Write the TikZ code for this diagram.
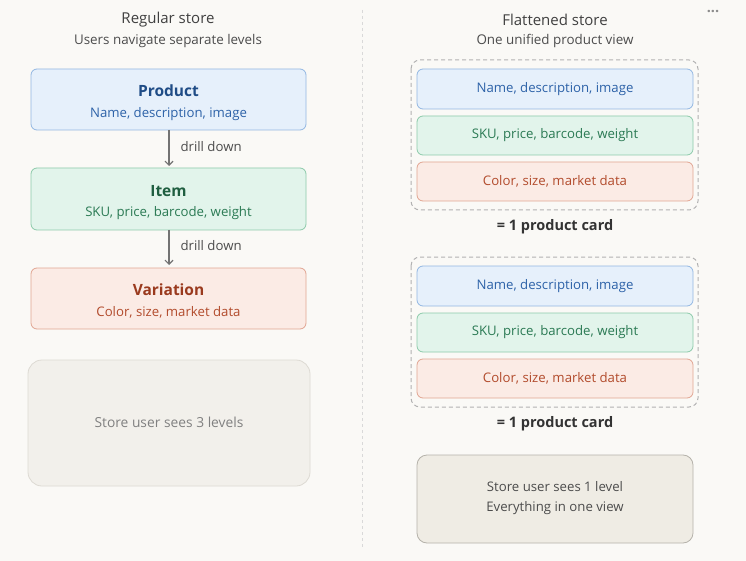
\documentclass[tikz,border=0pt]{standalone}
\usepackage{fontspec}
\setmainfont{Open Sans}
\usetikzlibrary{arrows.meta}
\begin{document}
\begin{tikzpicture}[x=1pt,y=-1pt,
 box/.style={rounded corners=6pt,line width=0.8pt,inner sep=0pt},
 bl/.style={box,fill=blueF,draw=blueD},
 gr/.style={box,fill=greenF,draw=greenD},
 rd/.style={box,fill=redF,draw=redD},
 cont/.style={rounded corners=9pt,draw=gray!60,line width=1pt,dash pattern=on 4pt off 3pt},
 arr/.style={draw=black!55,line width=1.2pt,-{Straight Barb[length=4pt,width=8pt]}},
 lab/.style={font=\fontsize{13.2}{15}\selectfont},
 head/.style={font=\fontsize{15.5}{18}\selectfont\bfseries}]
\definecolor{bg}{HTML}{FAF9F6}
\definecolor{blueF}{HTML}{E6F0FB}\definecolor{blueD}{HTML}{92B7E2}\definecolor{blueT}{HTML}{2D62A8}\definecolor{blueH}{HTML}{1F4C86}
\definecolor{greenF}{HTML}{E2F4EB}\definecolor{greenD}{HTML}{8CCAAA}\definecolor{greenT}{HTML}{2B7A54}\definecolor{greenH}{HTML}{1F5E40}
\definecolor{redF}{HTML}{FBEBE5}\definecolor{redD}{HTML}{E1A592}\definecolor{redT}{HTML}{B24B2C}\definecolor{redH}{HTML}{9A3A1E}
\definecolor{g1F}{HTML}{F2F0EB}\definecolor{g1D}{HTML}{DDDAD3}
\definecolor{g2F}{HTML}{EFECE4}\definecolor{g2D}{HTML}{B5B2AA}
\fill[bg] (0,0) rectangle (746,561);
\useasboundingbox (0,0) rectangle (746,561);
\draw[black!15,dashed,line width=0.8pt] (362,10) -- (362,548);
\node[font=\fontsize{15}{18}\selectfont,text=black!75] (t1) at (168,20) {Regular store};
\node[font=\fontsize{13.4}{16}\selectfont,text=black!70] (s1) at (168,41) {Users navigate separate levels};
\node[font=\fontsize{15}{18}\selectfont,text=black!75] (t2) at (555,20) {Flattened store};
\node[font=\fontsize{13.4}{16}\selectfont,text=black!70] (s2) at (555,41) {One unified product view};
\node[text=black!45,font=\Large\bfseries] (dots) at (713,11) {...};
% left
\path[bl] (31,69) rectangle (306,130);
\node[head,text=blueH] (ph) at (168.5,91) {Product};
\node[lab,text=blueT] (pb) at (168.5,114) {Name, description, image};
\path[gr] (31,168) rectangle (306,230);
\node[head,text=greenH] (ih) at (168.5,191) {Item};
\node[lab,text=greenT] (ib) at (168.5,213) {SKU, price, barcode, weight};
\path[rd] (31,268) rectangle (306,329);
\node[head,text=redH] (vh) at (168.5,290) {Variation};
\node[lab,text=redT] (vb) at (168.5,312) {Color, size, market data};
\coordinate (a1) at (169,130); \coordinate (b1) at (169,166);
\coordinate (a2) at (169,230); \coordinate (b2) at (169,265);
\draw[arr] (a1) -- (b1);
\draw[arr] (a2) -- (b2);
\node[lab,text=black!70,anchor=west] (d1) at (177,147) {drill down};
\node[lab,text=black!70,anchor=west] (d2) at (177,246) {drill down};
\draw[rounded corners=14pt,fill=g1F,draw=g1D,line width=0.8pt] (28,360) rectangle (310,486);
\node[font=\fontsize{13.8}{16}\selectfont,text=black!50] (g1) at (169,422) {Store user sees 3 levels};
% right
\foreach \dy in {0,197}{
 \draw[cont] (411,60+\dy) rectangle (698,210+\dy);
 \path[bl] (417,69+\dy) rectangle (693,109+\dy);
 \node[lab,text=blueT] at (555,89+\dy) {Name, description, image};
 \path[gr] (417,116+\dy) rectangle (693,155+\dy);
 \node[lab,text=greenT] at (555,135.5+\dy) {SKU, price, barcode, weight};
 \path[rd] (417,162+\dy) rectangle (693,201+\dy);
 \node[lab,text=redT] at (555,181.5+\dy) {Color, size, market data};
 \node[font=\fontsize{14.5}{17}\selectfont\bfseries,text=black!80] at (555,227+\dy) {= 1 product card};
}
\draw[rounded corners=10pt,fill=g2F,draw=g2D,line width=0.8pt] (417,455) rectangle (693,543);
\node[font=\fontsize{13.2}{16}\selectfont,text=black!70] (g2) at (555,487) {Store user sees 1 level};
\node[font=\fontsize{13.2}{16}\selectfont,text=black!70] (g3) at (555,508) {Everything in one view};
\end{tikzpicture}
\end{document}
